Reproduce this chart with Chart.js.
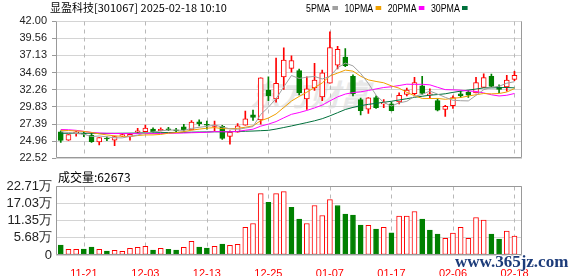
<!DOCTYPE html>
<html>
<head>
<meta charset="utf-8">
<script src="https://cdn.jsdelivr.net/npm/chart.js@4.4.1/dist/chart.umd.min.js"></script>
<style>
    body { margin: 0; background: #fff; }
    #wrap { position: relative; width: 578px; height: 276px; overflow: hidden; font-family: "Noto Sans CJK SC", sans-serif; color: #000; }
    #wrap canvas { position: absolute; left: 0; }
    #kline { top: 0; }
    #vol { top: 170px; }
    .txt { position: absolute; white-space: nowrap; line-height: 1; }
    #head { left: 50px; top: 2px; font-size: 11px; }
    #legend { left: 306px; top: 3px; font-size: 11px; font-family: "Liberation Sans", sans-serif; transform: scaleX(0.8); transform-origin: 0 0; }
    #legend span { margin-right: 8px; }
    #legend i { display: inline-block; width: 7px; height: 4px; margin-left: 3px; vertical-align: 2px; }
    #vtitle { left: 58px; top: 171px; font-size: 12px; }
    #logo { left: 250px; top: 78px; font-size: 30px; font-weight: bold; font-style: italic; color: #e8e8e8; }
    #mark { left: 455px; top: 252px; font: bold 17px "Liberation Serif", serif; color: #1d3c7a; text-shadow: 1px 0 #fff, -1px 0 #fff, 0 1px #fff, 0 -1px #fff; }
</style>
</head>
<body>
<div id="wrap">
    <div class="txt" id="logo">东方财富</div>
    <canvas id="kline" width="578" height="170"></canvas>
    <canvas id="vol" width="578" height="106"></canvas>
    <div class="txt" id="head">显盈科技[301067] 2025-02-18 10:10</div>
    <div class="txt" id="legend"></div>
    <div class="txt" id="vtitle">成交量:62673</div>
    <div class="txt" id="mark">www.365jz.com</div>
</div>
<script>
const dates = [
    '11-18', '11-19', '11-20', '11-21', '11-22', '11-25', '11-26', '11-27', '11-28', '11-29',
    '12-02', '12-03', '12-04', '12-05', '12-06', '12-09', '12-10', '12-11', '12-12', '12-13',
    '12-16', '12-17', '12-18', '12-19', '12-20', '12-23', '12-24', '12-25', '12-26', '12-27',
    '12-30', '12-31', '01-02', '01-03', '01-06', '01-07', '01-08', '01-09', '01-10', '01-13',
    '01-14', '01-15', '01-16', '01-17', '01-20', '01-21', '01-22', '01-23', '01-24', '01-27',
    '02-05', '02-06', '02-07', '02-10', '02-11', '02-12', '02-13', '02-14', '02-17', '02-18'
]
const tickDates = ['11-21', '12-03', '12-13', '12-25', '01-07', '01-17', '02-06', '02-18']

const open = [
    26.28, 25.11, 26.08, 26.08, 25.79, 24.84, 25.41, 25.11, 25.70, 25.65,
    26.24, 26.32, 26.68, 26.46, 26.73, 26.51, 27.00, 26.55, 27.72, 27.32,
    27.05, 27.05, 25.65, 26.24, 27.22, 28.70, 27.99, 32.19, 30.94, 34.07,
    35.28, 34.97, 30.94, 32.50, 31.25, 33.17, 35.73, 36.90, 34.17, 30.85,
    29.51, 31.16, 30.25, 30.25, 30.51, 31.59, 31.68, 32.82, 31.52, 30.72,
    29.47, 29.98, 31.66, 31.92, 31.79, 32.60, 34.17, 32.64, 32.64, 33.71
]
const high = [
    26.42, 25.88, 26.35, 26.35, 26.15, 25.48, 25.57, 25.68, 26.01, 26.08,
    26.78, 27.26, 26.86, 26.86, 26.91, 26.78, 27.36, 27.89, 27.99, 27.80,
    27.80, 27.22, 26.42, 27.45, 29.24, 29.37, 33.94, 34.07, 36.76, 38.20,
    37.07, 35.19, 34.07, 36.00, 35.05, 40.48, 38.41, 38.10, 34.38, 31.08,
    31.16, 31.39, 30.85, 30.49, 31.83, 32.50, 34.03, 34.17, 32.37, 30.98,
    30.04, 31.39, 32.06, 32.15, 34.03, 34.52, 34.48, 32.96, 34.30, 34.88
]
const low = [
    24.80, 25.07, 25.68, 25.61, 24.80, 24.44, 25.03, 24.31, 25.61, 25.11,
    26.15, 26.28, 26.15, 26.42, 26.46, 26.24, 26.38, 26.55, 27.13, 26.68,
    26.46, 25.21, 24.54, 26.24, 27.22, 27.89, 27.36, 30.72, 30.49, 32.29,
    34.75, 31.52, 29.47, 32.15, 30.72, 33.17, 35.19, 35.51, 31.39, 28.70,
    28.90, 29.60, 29.73, 29.24, 30.25, 31.39, 31.52, 31.59, 31.02, 29.24,
    28.47, 29.60, 31.16, 31.16, 31.79, 32.60, 32.64, 31.83, 32.06, 33.54
]
const close = [
    25.07, 25.88, 26.28, 25.95, 24.90, 25.48, 25.27, 25.61, 25.88, 25.92,
    26.42, 26.82, 26.28, 26.64, 26.55, 26.42, 26.55, 27.67, 27.45, 27.22,
    27.26, 25.34, 26.24, 27.13, 28.12, 28.34, 33.94, 31.39, 33.17, 36.45,
    36.40, 31.83, 32.37, 33.63, 34.65, 38.24, 37.97, 35.65, 31.70, 29.30,
    31.12, 29.71, 30.38, 29.30, 31.45, 32.19, 33.27, 31.75, 31.62, 29.37,
    29.91, 31.16, 31.43, 31.48, 33.27, 33.98, 32.73, 32.29, 33.63, 34.30
]
const prevClose = 25.60

const ma5 = [
    26.30, 26.20, 26.05, 25.95, 25.62, 25.70, 25.58, 25.44, 25.43, 25.63,
    25.82, 26.13, 26.26, 26.42, 26.54, 26.54, 26.49, 26.77, 26.93, 27.06,
    27.23, 26.99, 26.70, 26.64, 26.82, 27.03, 28.75, 29.78, 30.99, 32.66,
    34.27, 33.85, 34.04, 34.14, 33.78, 34.14, 35.37, 36.03, 35.64, 34.57,
    33.15, 31.50, 30.44, 29.96, 30.39, 30.61, 31.32, 31.59, 32.06, 31.64,
    31.18, 30.76, 30.70, 30.67, 31.45, 32.26, 32.58, 32.75, 33.18, 33.39
]
const ma10 = [
    26.50, 26.47, 26.42, 26.35, 26.20, 26.00, 25.85, 25.72, 25.65, 25.62,
    25.76, 25.85, 25.85, 25.92, 26.09, 26.18, 26.31, 26.52, 26.67, 26.80,
    26.89, 26.74, 26.73, 26.78, 26.94, 27.13, 27.87, 28.24, 28.82, 29.74,
    30.65, 31.30, 31.91, 32.56, 33.22, 34.21, 34.61, 35.04, 34.89, 34.17,
    33.65, 33.43, 33.24, 32.80, 32.48, 31.88, 31.41, 31.02, 31.01, 31.02,
    30.90, 31.04, 31.15, 31.36, 31.55, 31.72, 31.67, 31.72, 31.93, 32.42
]
const ma20 = [
    26.62, 26.58, 26.50, 26.35, 26.20, 26.12, 26.08, 26.05, 26.04, 26.03,
    26.03, 26.04, 26.03, 26.04, 26.07, 26.09, 26.12, 26.16, 26.19, 26.21,
    26.32, 26.30, 26.29, 26.35, 26.51, 26.66, 27.09, 27.38, 27.74, 28.27,
    28.77, 29.02, 29.32, 29.67, 30.08, 30.67, 31.24, 31.64, 31.85, 31.96,
    32.15, 32.37, 32.57, 32.68, 32.85, 33.04, 33.01, 33.03, 32.95, 32.60,
    32.27, 32.24, 32.19, 32.08, 32.01, 31.80, 31.54, 31.37, 31.47, 31.72
]
const ma30 = [
    26.08, 26.08, 26.09, 26.09, 26.08, 26.07, 26.07, 26.08, 26.09, 26.10,
    26.12, 26.14, 26.15, 26.17, 26.19, 26.20, 26.22, 26.24, 26.26, 26.27,
    26.29, 26.29, 26.30, 26.33, 26.37, 26.40, 26.45, 26.50, 26.68, 26.90,
    27.12, 27.36, 27.60, 27.85, 28.15, 28.55, 29.00, 29.45, 29.75, 30.00,
    30.18, 30.33, 30.48, 30.62, 30.80, 30.98, 31.18, 31.33, 31.48, 31.57,
    31.68, 31.88, 32.05, 32.20, 32.35, 32.52, 32.52, 32.55, 32.57, 32.52
]

// 万手
const vol = [
    3.28, 1.86, 1.86, 1.97, 2.62, 1.86, 1.31, 1.53, 1.20, 2.18,
    2.51, 2.84, 1.64, 2.18, 1.86, 1.64, 2.51, 4.48, 2.62, 2.29,
    2.84, 3.61, 3.17, 3.50, 9.07, 10.38, 20.21, 17.37, 20.21, 20.87,
    15.73, 11.80, 10.38, 16.29, 13.01, 18.25, 16.29, 13.44, 13.11, 9.83,
    9.73, 8.52, 9.07, 7.31, 12.78, 12.78, 14.32, 11.80, 8.19, 6.88,
    5.47, 7.21, 9.07, 5.47, 12.35, 11.47, 6.88, 5.24, 7.86, 6.2673
]

const priceTicks = [22.52, 24.96, 27.39, 29.83, 32.26, 34.69, 37.13, 39.56, 42.00]
const volTicks = [0, 5.68, 11.35, 17.03, 22.71]

const maNames = ['5PMA', '10PMA', '20PMA', '30PMA']
const maSeries = [ma5, ma10, ma20, ma30]
const maColors = ['#a0a0a0', '#f0a000', '#ff00ff', '#00703c']

const RED = '#ff0000',
    GREEN = '#008000',
    GRID = '#d4d4d4',
    FRAME = '#999999'

const candleUp = close.map((c, i) => c >= open[i])
const volUp = close.map((c, i) => c >= (i ? close[i - 1] : prevClose))

const $legend = document.getElementById('legend')
maNames.forEach((n, k) => {
    $legend.insertAdjacentHTML('beforeend', `<span>${n}<i style="background:${maColors[k]}"></i></span>`)
})

Chart.defaults.font.family = '"Liberation Sans", sans-serif'
Chart.defaults.animation = false

const edges = a => ({
    l: Math.round(a.left) + 0.5,
    r: Math.round(a.right) - 0.5,
    t: Math.round(a.top) + 0.5,
    b: Math.round(a.bottom) - 0.5
})

// dashed date lines under the bars, grey frame on top
const framePlugin = {
    id: 'frame',
    beforeDatasetsDraw(chart) {
        const {ctx, chartArea, scales: {x}} = chart
        const {t, b} = edges(chartArea)
        ctx.save()
        ctx.lineWidth = 1
        ctx.strokeStyle = '#b8b8b8'
        ctx.setLineDash([4, 4])
        ctx.beginPath()
        tickDates.forEach(d => {
            const px = Math.round(x.getPixelForValue(dates.indexOf(d) + 1)) + 0.5
            ctx.moveTo(px, t)
            ctx.lineTo(px, b)
        })
        ctx.stroke()
        ctx.restore()
    },
    afterDraw(chart, args, opts) {
        const {ctx, chartArea} = chart
        const {l, r, t, b} = edges(chartArea)
        ctx.save()
        ctx.lineWidth = 1
        ctx.strokeStyle = FRAME
        ctx.beginPath()
        ctx.moveTo(l, t)
        ctx.lineTo(l, b)
        ctx.lineTo(r, b)
        ctx.lineTo(r, t)
        if (opts.top) ctx.lineTo(l, t)
        ctx.stroke()
        ctx.restore()
    }
}

const xAxis = (showLabels) => ({
    type: 'linear',
    min: 0.38,
    max: 60.98,
    offset: false,
    afterBuildTicks: s => { s.ticks = tickDates.map(d => ({value: dates.indexOf(d) + 1})) },
    afterFit: s => { s.height = showLabels ? 21 : 0 },
    ticks: {
        display: showLabels,
        autoSkip: false,
        maxRotation: 0,
        padding: 4,
        color: RED,
        font: {size: 11},
        callback: v => dates[v - 1]
    },
    grid: {display: false},
    border: {display: false}
})

const noHover = {
    events: [],
    responsive: false,
    plugins: {legend: {display: false}, tooltip: {enabled: false}}
}

new Chart(document.getElementById('kline'), {
    type: 'bar',
    data: {
        datasets: [
            ...maNames.map((name, k) => ({
                type: 'line',
                label: name,
                data: maSeries[k].map((v, i) => ({x: i + 1, y: v})),
                borderColor: maColors[k],
                borderWidth: 1,
                pointRadius: 0,
                order: 0
            })),
            {
                label: 'body',
                data: open.map((o, i) => ({x: i + 1, y: [o, close[i]]})),
                grouped: false,
                barThickness: 5,
                minBarLength: 1,
                borderWidth: 1,
                borderSkipped: false,
                backgroundColor: c => candleUp[c.dataIndex] ? '#ffffff' : GREEN,
                borderColor: c => candleUp[c.dataIndex] ? RED : GREEN,
                order: 1
            },
            {
                label: 'wick',
                data: low.map((l, i) => ({x: i + 1, y: [l, high[i]]})),
                grouped: false,
                barThickness: 1,
                borderWidth: 0,
                backgroundColor: c => candleUp[c.dataIndex] ? RED : GREEN,
                order: 2
            }
        ]
    },
    options: {
        ...noHover,
        layout: {padding: {left: 0, right: 56, top: 21, bottom: 4}},
        plugins: {...noHover.plugins, frame: {top: false}},
        scales: {
            x: xAxis(false),
            y: {
                min: 22.52,
                max: 42.00,
                afterBuildTicks: s => { s.ticks = priceTicks.map(v => ({value: v})) },
                afterFit: s => { s.width = 56 },
                ticks: {
                    autoSkip: false,
                    color: '#222',
                    padding: 5,
                    font: {size: 11},
                    callback: v => v.toFixed(2)
                },
                grid: {color: GRID, tickLength: 4, tickColor: FRAME},
                border: {display: false}
            }
        }
    },
    plugins: [framePlugin]
})

new Chart(document.getElementById('vol'), {
    type: 'bar',
    data: {
        datasets: [{
            label: '成交量',
            data: vol.map((v, i) => ({x: i + 1, y: v})),
            grouped: false,
            barThickness: 5,
            borderWidth: 1,
            borderSkipped: false,
            backgroundColor: c => volUp[c.dataIndex] ? '#ffffff' : GREEN,
            borderColor: c => volUp[c.dataIndex] ? RED : GREEN
        }]
    },
    options: {
        ...noHover,
        layout: {padding: {left: 0, right: 56, top: 16, bottom: 0}},
        plugins: {...noHover.plugins, frame: {top: true}},
        scales: {
            x: xAxis(true),
            y: {
                min: 0,
                max: 22.71,
                afterBuildTicks: s => { s.ticks = volTicks.map(v => ({value: v})) },
                afterFit: s => { s.width = 56 },
                ticks: {
                    autoSkip: false,
                    color: '#222',
                    padding: 4,
                    font: {size: 13},
                    callback: v => v ? v.toFixed(2) + '万' : '0'
                },
                grid: {color: GRID, drawTicks: false},
                border: {display: false}
            }
        }
    },
    plugins: [framePlugin]
})
</script>
</body>
</html>
